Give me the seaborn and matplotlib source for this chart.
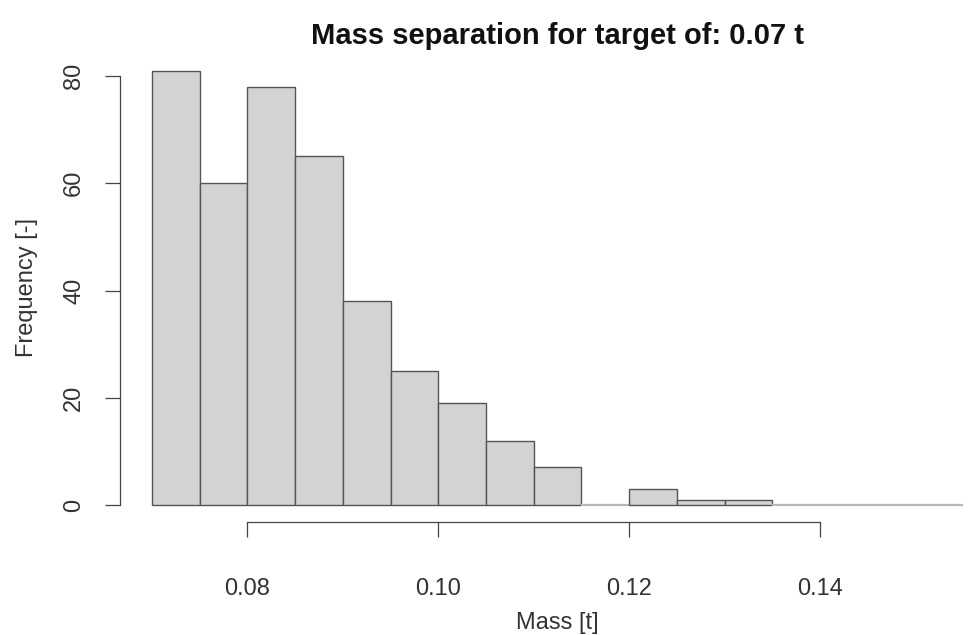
import numpy as np
import matplotlib
matplotlib.use("Agg")
import matplotlib.pyplot as plt
import seaborn as sns

# histogram (bin width 0.005 t)
bin_edges = [0.070, 0.075, 0.080, 0.085, 0.090, 0.095, 0.100, 0.105, 0.110,
             0.115, 0.120, 0.125, 0.130, 0.135, 0.140, 0.145, 0.150, 0.155]
counts = [81, 60, 78, 65, 38, 25, 19, 12, 7, 0, 3, 1, 1, 0, 0, 0, 0]
x_ticks = [0.08, 0.10, 0.12, 0.14]
x_tick_labels = ["0.08", "0.10", "0.12", "0.14"]
y_ticks = [0, 20, 40, 60, 80]

sns.set_theme(style="white")
plt.rcParams["font.family"] = ["Liberation Sans", "DejaVu Sans"]

ink = "#333333"
fig = plt.figure(figsize=(9.72, 6.35), dpi=100)
# axes runs past the right edge, like the cropped original
ax = fig.add_axes([119.6 / 972, 1 - 522.4 / 635, 876 / 972, 469.1 / 635])

edges = np.array(bin_edges)
centers = (edges[:-1] + edges[1:]) / 2
sns.histplot(x=centers, weights=counts, bins=bin_edges, ax=ax,
             color="#d3d3d3", edgecolor="#555555", linewidth=1.0, alpha=1)

for p, c in zip(ax.patches, counts):
    if c == 0:
        p.set_edgecolor("#b8b8b8")
        p.set_linewidth(1.6)

ax.set_xlim(0.0666, 0.1584)
ax.set_ylim(-3.24, 84.24)

for s in ["top", "right"]:
    ax.spines[s].set_visible(False)
ax.spines["left"].set_bounds(0, 80)
ax.spines["bottom"].set_bounds(0.08, 0.14)
for s in ["left", "bottom"]:
    ax.spines[s].set_color("#444444")
    ax.spines[s].set_linewidth(0.9)

ax.set_xticks(x_ticks)
ax.set_xticklabels(x_tick_labels)
ax.set_yticks(y_ticks)
ax.set_yticklabels([str(v) for v in y_ticks], rotation=90, va="center")
ax.tick_params(axis="both", which="major", direction="out", length=10.8,
               width=0.9, color="#444444", labelsize=17, labelcolor=ink,
               left=True, bottom=True)
ax.tick_params(axis="x", pad=29)
ax.tick_params(axis="y", pad=14)

ax.set_xlabel("Mass [t]", fontsize=17, color=ink, labelpad=9)
ax.set_ylabel("Frequency [-]", fontsize=17, color=ink, labelpad=18)
ax.set_title("Mass separation for target of: 0.07 t", fontsize=21,
             fontweight="bold", color="#111111", pad=7)
ax.grid(False)

fig.savefig("out.png", dpi=100)
